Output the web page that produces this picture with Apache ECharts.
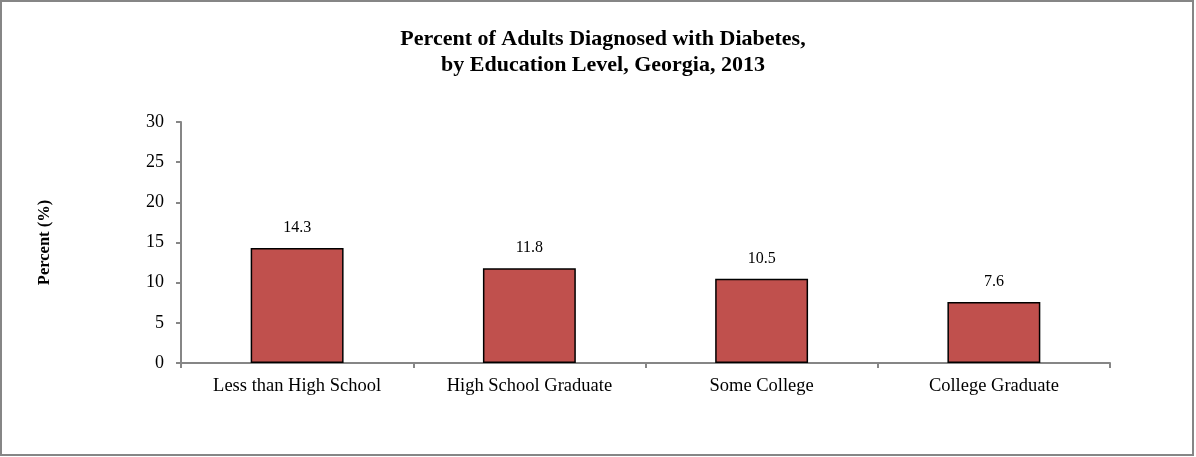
<!DOCTYPE html>
<html>
<head>
<meta charset="utf-8">
<script src="https://cdn.jsdelivr.net/npm/echarts@6/dist/echarts.min.js"></script>
<style>
  html, body { margin: 0; padding: 0; background: #fff; }
  #chart { width: 1196px; height: 457px; }
</style>
</head>
<body>
<div id="chart"></div>
<script>
// data
const categories = ["Less than High School", "High School Graduate", "Some College", "College Graduate"];
const percentValues = [14.3, 11.8, 10.5, 7.6];
const yTicks = [0, 5, 10, 15, 20, 25, 30];

const serif = "'Liberation Serif', 'Times New Roman', serif";
const axisGray = "#868686";

const chart = echarts.init(document.getElementById("chart"));

const option = {
  backgroundColor: "#fff",
  animation: false,
  title: {
    text: "Percent of Adults Diagnosed with Diabetes,\nby Education Level, Georgia, 2013",
    left: 598,
    top: 21,
    textAlign: "center",
    textStyle: {
      fontFamily: serif,
      fontSize: 22,
      fontWeight: "bold",
      color: "#000",
      lineHeight: 26,
    },
  },
  graphic: [
    {
      type: "rect",
      shape: { x: 1, y: 1, width: 1192, height: 454 },
      style: { fill: "none", stroke: axisGray, lineWidth: 2 },
      silent: true,
    },
  ],
  grid: { left: 181, right: 86, top: 122, bottom: 94, containLabel: false },
  xAxis: {
    type: "category",
    data: categories,
    axisLine: { lineStyle: { color: axisGray, width: 2 } },
    axisTick: { show: true, alignWithLabel: false, length: 5, lineStyle: { color: axisGray, width: 2 } },
    axisLabel: { fontFamily: serif, fontSize: 18.5, color: "#000", margin: 14 },
  },
  yAxis: {
    type: "value",
    min: yTicks[0],
    max: yTicks[yTicks.length - 1],
    interval: yTicks[1] - yTicks[0],
    name: "Percent (%)",
    nameLocation: "middle",
    nameRotate: 90,
    nameGap: 128,
    nameTextStyle: { fontFamily: serif, fontSize: 16.5, fontWeight: "bold", color: "#000" },
    axisLine: { show: true, lineStyle: { color: axisGray, width: 2 } },
    axisTick: { show: true, length: 5, lineStyle: { color: axisGray, width: 2 } },
    axisLabel: { fontFamily: serif, fontSize: 18, color: "#000", margin: 17 },
    splitLine: { show: false },
  },
  series: [
    {
      name: "Percent",
      type: "bar",
      data: percentValues,
      barCategoryGap: "60%",
      itemStyle: { color: "#C0504D", borderColor: "#000", borderWidth: 1.5 },
      label: {
        show: true,
        position: "top",
        distance: 12,
        fontFamily: serif,
        fontSize: 16,
        color: "#000",
        formatter: (p) => p.value.toFixed(1),
      },
    },
  ],
};

chart.setOption(option);
</script>
</body>
</html>
